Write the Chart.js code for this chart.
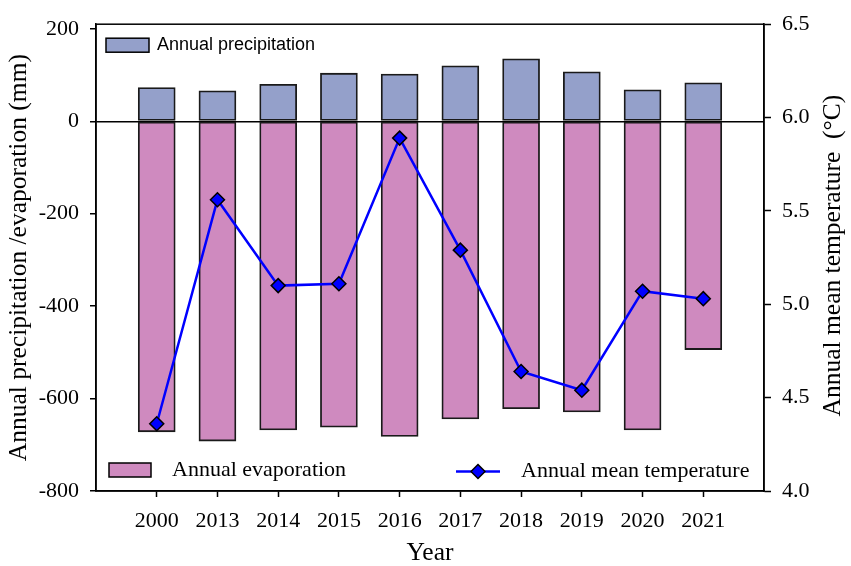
<!DOCTYPE html>
<html><head><meta charset="utf-8">
<script src="https://cdn.jsdelivr.net/npm/chart.js@4.4.0/dist/chart.umd.min.js"></script>
<style>html,body{margin:0;padding:0;background:#fff}#wrap{width:851px;height:566px;position:relative}</style>
</head><body><div id="wrap"><canvas id="c"></canvas></div>
<script>
const years = ['2000','2013','2014','2015','2016','2017','2018','2019','2020','2021'];
const precipitation = [73, 66, 80, 104, 102, 120, 135, 107, 68, 83];
const evaporation = [-672, -692, -668, -662, -682, -644, -622, -629, -668, -494];
const temperature = [4.36, 5.56, 5.10, 5.11, 5.89, 5.29, 4.64, 4.54, 5.07, 5.03];
const leftTicks = [-800, -600, -400, -200, 0, 200];
const rightTicks = [4.0, 4.5, 5.0, 5.5, 6.0, 6.5];

const PRECIP_COLOR = '#94A0CA';
const EVAP_COLOR = '#CF8ABF';
const LINE_COLOR = '#0000FF';
const SERIF = "'Liberation Serif', 'Times New Roman', serif";
const SANS = "'Liberation Sans', Arial, sans-serif";

const toXY = arr => arr.map((v, i) => ({x: i, y: v}));

const framePlugin = {
  id: 'frameAndLegend',
  afterDraw(chart) {
    const {ctx, chartArea: a} = chart;
    ctx.save();
    ctx.strokeStyle = '#000';
    ctx.lineWidth = 1.5;
    ctx.strokeRect(a.left, a.top, a.right - a.left, a.bottom - a.top);

    ctx.fillStyle = PRECIP_COLOR;
    ctx.fillRect(a.left + 10, a.top + 14, 43, 14);
    ctx.strokeRect(a.left + 10, a.top + 14, 43, 14);
    ctx.fillStyle = '#000';
    ctx.font = "18px " + SANS;
    ctx.textBaseline = 'middle';
    ctx.textAlign = 'left';
    ctx.fillText(chart.data.datasets[1].label, a.left + 61, a.top + 21);

    ctx.fillStyle = EVAP_COLOR;
    ctx.fillRect(a.left + 13, a.bottom - 28, 42, 14);
    ctx.strokeRect(a.left + 13, a.bottom - 28, 42, 14);
    ctx.fillStyle = '#000';
    ctx.font = "22px " + SERIF;
    ctx.fillText(chart.data.datasets[2].label, a.left + 76, a.bottom - 21);

    const ly = a.bottom - 19.5;
    ctx.strokeStyle = LINE_COLOR;
    ctx.lineWidth = 2.5;
    ctx.beginPath();
    ctx.moveTo(a.left + 360, ly);
    ctx.lineTo(a.left + 404, ly);
    ctx.stroke();
    const cx = a.left + 382, r = 7;
    ctx.beginPath();
    ctx.moveTo(cx - r, ly); ctx.lineTo(cx, ly - r); ctx.lineTo(cx + r, ly); ctx.lineTo(cx, ly + r); ctx.closePath();
    ctx.fillStyle = LINE_COLOR; ctx.fill();
    ctx.strokeStyle = '#000'; ctx.lineWidth = 1.5; ctx.stroke();
    ctx.fillStyle = '#000';
    ctx.font = "22px " + SERIF;
    ctx.fillText(chart.data.datasets[0].label, a.left + 425, ly);

    ctx.save();
    ctx.translate(833, (a.top + a.bottom) / 2 - 2);
    ctx.rotate(-Math.PI / 2);
    ctx.textAlign = 'center';
    ctx.font = "25.5px " + SERIF;
    ctx.fillText('Annual mean temperature  (°C)', 0, 0);
    ctx.restore();
    ctx.restore();
  }
};

new Chart(document.getElementById('c'), {
  data: {
    datasets: [
      {
        type: 'line', label: 'Annual mean temperature', data: toXY(temperature), yAxisID: 'y1', order: 0,
        borderColor: LINE_COLOR, borderWidth: 2.5, tension: 0,
        pointStyle: 'rectRot', pointRadius: 7, pointHoverRadius: 7,
        pointBackgroundColor: LINE_COLOR, pointBorderColor: '#000', pointBorderWidth: 1.5
      },
      {
        type: 'bar', label: 'Annual precipitation', data: toXY(precipitation), yAxisID: 'y', order: 1,
        backgroundColor: PRECIP_COLOR, borderColor: '#1a1a1a', borderWidth: 1.8, borderSkipped: false,
        barThickness: 37, grouped: false
      },
      {
        type: 'bar', label: 'Annual evaporation', data: toXY(evaporation), yAxisID: 'y', order: 2,
        backgroundColor: EVAP_COLOR, borderColor: '#1a1a1a', borderWidth: 1.8, borderSkipped: false,
        barThickness: 37, grouped: false
      }
    ]
  },
  options: {
    responsive: true, maintainAspectRatio: false, animation: false,
    layout: {padding: {top: 13, left: 0, right: 0, bottom: 0}},
    plugins: {legend: {display: false}, tooltip: {enabled: false}},
    scales: {
      x: {
        type: 'linear', position: 'bottom', min: -1, max: 10, offset: false,
        afterBuildTicks: s => { s.ticks = years.map((_, i) => ({value: i})); },
        afterFit: s => { s.height = 75; },
        border: {display: true, color: '#000', width: 1.5},
        grid: {offset: false, drawOnChartArea: false, drawTicks: true, tickLength: 6, tickColor: '#000', tickWidth: 1.5},
        ticks: {padding: 11, color: '#000', font: {family: SERIF, size: 22}, maxRotation: 0,
          callback: v => years[v] !== undefined ? years[v] : ''},
        title: {display: true, text: 'Year', color: '#000', font: {family: SERIF, size: 25.5, lineHeight: 1}, padding: {top: 0, bottom: 0}}
      },
      y: {
        type: 'linear', position: 'left', min: -800, max: 210,
        afterBuildTicks: s => { s.ticks = leftTicks.map(v => ({value: v})); },
        afterFit: s => { s.width = 96; },
        border: {display: true, color: '#000', width: 1.5},
        grid: {
          drawOnChartArea: true, drawTicks: true, tickLength: 6, tickColor: '#000', tickWidth: 1.5,
          color: c => (c.tick && c.tick.value === 0) ? '#000' : 'rgba(0,0,0,0)', lineWidth: 1.5
        },
        ticks: {padding: 11, color: '#000', font: {family: SERIF, size: 22}},
        title: {display: true, text: 'Annual precipitation /evaporation (mm)', color: '#000',
          font: {family: SERIF, size: 25.5, lineHeight: 1}, padding: {top: 7, bottom: 0}}
      },
      y1: {
        type: 'linear', position: 'right', min: 4.0, max: 6.5,
        afterBuildTicks: s => { s.ticks = rightTicks.map(v => ({value: v})); },
        afterFit: s => { s.width = 87; },
        border: {display: true, color: '#000', width: 1.5},
        grid: {drawOnChartArea: false, drawTicks: true, tickLength: 7, tickColor: '#000', tickWidth: 1.5},
        ticks: {padding: 11, color: '#000', font: {family: SERIF, size: 22}, callback: v => v.toFixed(1)}
      }
    }
  },
  plugins: [framePlugin]
});
</script>
</body></html>
